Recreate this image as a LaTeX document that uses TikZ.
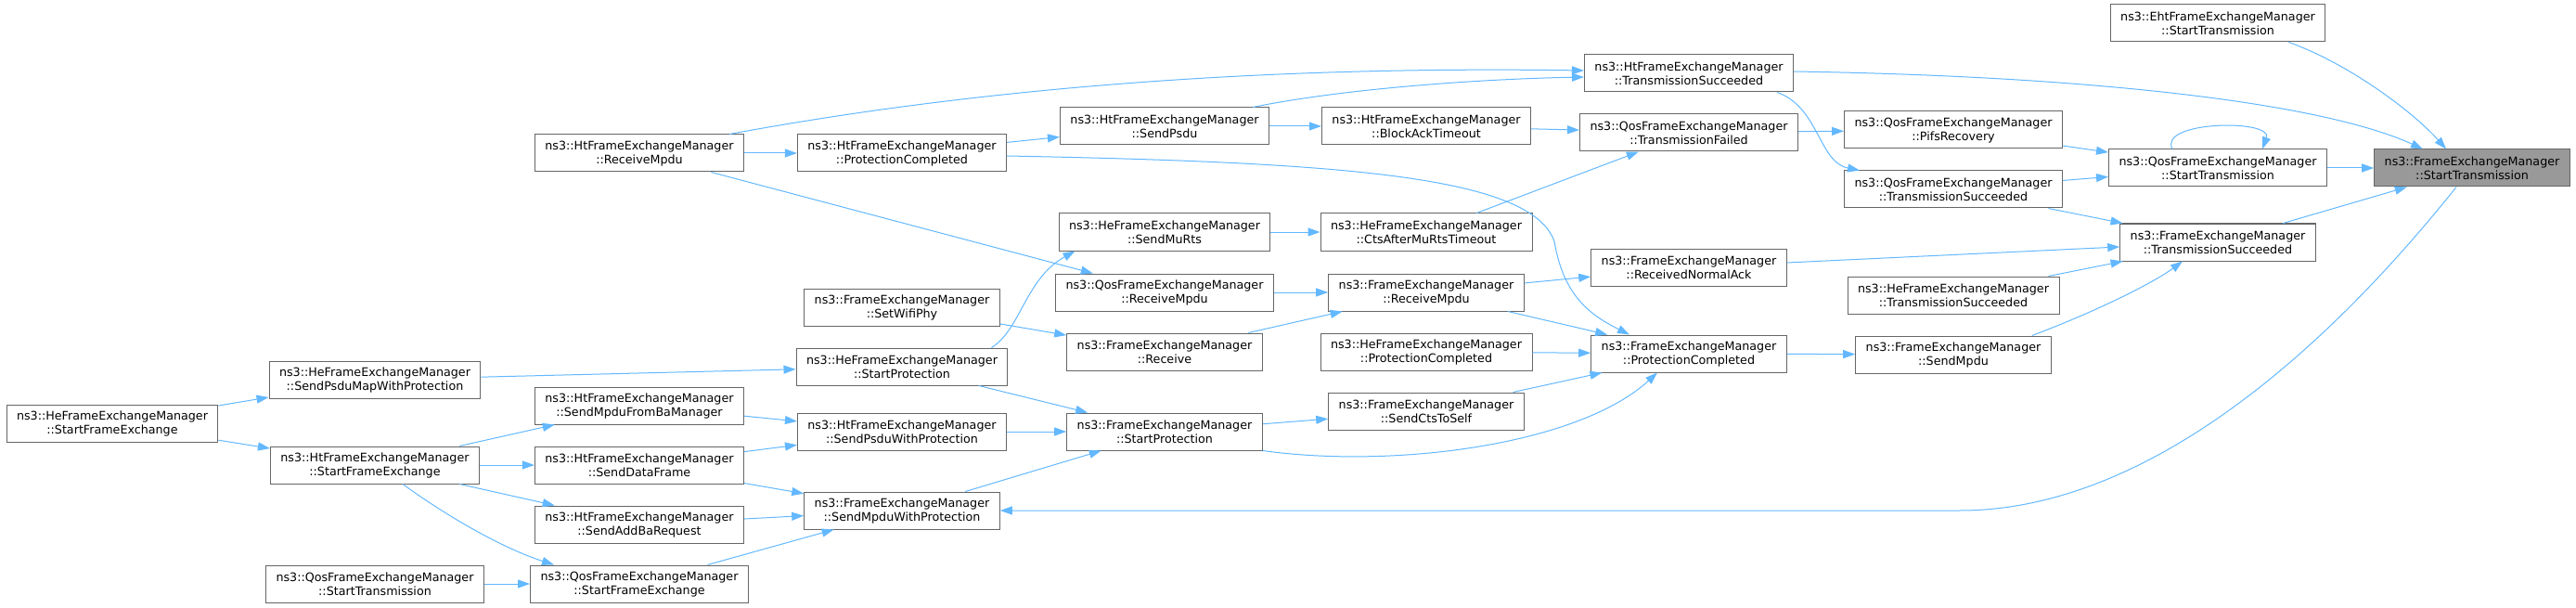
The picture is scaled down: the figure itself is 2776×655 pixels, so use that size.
\documentclass[tikz,border=0pt]{standalone}
\usepackage{fontspec}
\setmainfont{DejaVu Sans}
\usetikzlibrary{arrows.meta}
\definecolor{edgeblue}{HTML}{63B8FF}
\definecolor{boxgray}{HTML}{666666}
\definecolor{hlgray}{HTML}{999999}
\tikzset{
  fn/.style={draw=boxgray, line width=1pt, fill=white, align=center, minimum height=40pt,
    inner xsep=11pt, inner ysep=2pt, font=\fontsize{12.7}{15}\selectfont},
  target/.style={fn, fill=hlgray},
  call/.style={draw=edgeblue, line width=1pt, -{Triangle[length=13pt,width=9pt]}},
}
\begin{document}
\begin{tikzpicture}[x=1pt,y=-1pt]
  \useasboundingbox (0,0) rectangle (2776,655);
  \node [fn] (hesfe) at (121,456) {ns3::HeFrameExchangeManager\\::StartFrameExchange};
  \node [fn] (hespm) at (404,409) {ns3::HeFrameExchangeManager\\::SendPsduMapWithProtection};
  \node [fn] (htsfe) at (404,501) {ns3::HtFrameExchangeManager\\::StartFrameExchange};
  \node [fn] (qosstl) at (404,629) {ns3::QosFrameExchangeManager\\::StartTransmission};
  \node [fn] (htrxm) at (689,165) {ns3::HtFrameExchangeManager\\::ReceiveMpdu};
  \node [fn] (htsmba) at (689,437) {ns3::HtFrameExchangeManager\\::SendMpduFromBaManager};
  \node [fn] (htsdf) at (689,501) {ns3::HtFrameExchangeManager\\::SendDataFrame};
  \node [fn] (htaddba) at (689,565) {ns3::HtFrameExchangeManager\\::SendAddBaRequest};
  \node [fn] (qossfe) at (689,629) {ns3::QosFrameExchangeManager\\::StartFrameExchange};
  \node [fn] (htpc) at (972,165) {ns3::HtFrameExchangeManager\\::ProtectionCompleted};
  \node [fn] (setphy) at (972,331) {ns3::FrameExchangeManager\\::SetWifiPhy};
  \node [fn] (hesp) at (972,395) {ns3::HeFrameExchangeManager\\::StartProtection};
  \node [fn] (htspwp) at (972,465) {ns3::HtFrameExchangeManager\\::SendPsduWithProtection};
  \node [fn] (smwp) at (972,550) {ns3::FrameExchangeManager\\::SendMpduWithProtection};
  \node [fn] (htspsdu) at (1255,136) {ns3::HtFrameExchangeManager\\::SendPsdu};
  \node [fn] (hemurts) at (1255,250) {ns3::HeFrameExchangeManager\\::SendMuRts};
  \node [fn] (qosrxm) at (1255,315) {ns3::QosFrameExchangeManager\\::ReceiveMpdu};
  \node [fn] (femrx) at (1255,379) {ns3::FrameExchangeManager\\::Receive};
  \node [fn] (femsp) at (1255,465) {ns3::FrameExchangeManager\\::StartProtection};
  \node [fn] (htbat) at (1537,136) {ns3::HtFrameExchangeManager\\::BlockAckTimeout};
  \node [fn] (hects) at (1537,250) {ns3::HeFrameExchangeManager\\::CtsAfterMuRtsTimeout};
  \node [fn] (femrxm) at (1537,315) {ns3::FrameExchangeManager\\::ReceiveMpdu};
  \node [fn] (hepc) at (1537,379) {ns3::HeFrameExchangeManager\\::ProtectionCompleted};
  \node [fn] (femcts) at (1537,443) {ns3::FrameExchangeManager\\::SendCtsToSelf};
  \node [fn] (httxs) at (1820,79) {ns3::HtFrameExchangeManager\\::TransmissionSucceeded};
  \node [fn] (qostxf) at (1820,143) {ns3::QosFrameExchangeManager\\::TransmissionFailed};
  \node [fn] (femrna) at (1820,288) {ns3::FrameExchangeManager\\::ReceivedNormalAck};
  \node [fn] (fempc) at (1820,381) {ns3::FrameExchangeManager\\::ProtectionCompleted};
  \node [fn] (qospifs) at (2105,140) {ns3::QosFrameExchangeManager\\::PifsRecovery};
  \node [fn] (qostxs) at (2105,204) {ns3::QosFrameExchangeManager\\::TransmissionSucceeded};
  \node [fn] (hetxs) at (2105,318) {ns3::HeFrameExchangeManager\\::TransmissionSucceeded};
  \node [fn] (femsm) at (2105,382) {ns3::FrameExchangeManager\\::SendMpdu};
  \node [fn] (ehtst) at (2390,25) {ns3::EhtFrameExchangeManager\\::StartTransmission};
  \node [fn] (qosst) at (2390,181) {ns3::QosFrameExchangeManager\\::StartTransmission};
  \node [fn] (femtxs) at (2390,261) {ns3::FrameExchangeManager\\::TransmissionSucceeded};
  \node [target] (femst) at (2664,181) {ns3::FrameExchangeManager\\::StartTransmission};
  \foreach \a/\b in {hesfe/hespm, hesfe/htsfe, hespm/hesp, htsfe/htsmba, htsfe/htsdf,
      htsfe/htaddba, qosstl/qossfe, htrxm/htpc, htrxm/qosrxm, htsmba/htspwp, htsdf/htspwp,
      htsdf/smwp, htaddba/smwp, qossfe/smwp, htpc/htspsdu, setphy/femrx, hesp/femsp,
      htspwp/femsp, smwp/femsp, htspsdu/htbat, hemurts/hects, qosrxm/femrxm, femrx/femrxm,
      femsp/femcts, htbat/qostxf, hects/qostxf, femrxm/femrna, femrxm/fempc, hepc/fempc,
      femcts/fempc, qostxf/qospifs, femrna/femtxs, fempc/femsm, qospifs/qosst,
      qostxs/qosst, qostxs/femtxs, hetxs/femtxs, qosst/femst, femtxs/femst}
    \draw [call] (\a) -- (\b);
  \draw [call] ([xshift=30pt]htsfe.south) .. controls (480,555) and (540,590) .. ([xshift=26pt]qossfe.north west);
  \draw [call] ([xshift=-16pt]htrxm.north east) .. controls (1000,105) and (1300,70) .. ([yshift=3pt]httxs.west);
  \draw [call] ([yshift=-3pt]htpc.east) .. controls (1450,175) and (1650,190) .. (1675,260)
    .. controls (1685,320) and (1715,340) .. ([xshift=-64pt]fempc.north);
  \draw [call] ([xshift=-18pt]hesp.north east) .. controls (1100,355) and (1105,300) .. ([xshift=18pt]hemurts.south west);
  \draw [call] ([xshift=-18pt]htspsdu.north east) .. controls (1450,95) and (1600,85) .. ([yshift=-4pt]httxs.west);
  \draw [call] (femsp.south east) .. controls (1500,505) and (1700,480) .. ([xshift=-34pt]fempc.south);
  \draw [call] ([xshift=-18pt]httxs.south east) .. controls (1960,115) and (1960,175) .. ([xshift=17pt]qostxs.north west);
  \draw [call] ([yshift=2pt]httxs.east) .. controls (2250,82) and (2500,110) .. ([xshift=-53pt]femst.north);
  \draw [call] ([xshift=-21pt]femsm.north east) .. controls (2260,335) and (2320,305) .. ([xshift=-38pt]femtxs.south);
  \draw [call] ([xshift=-40pt]ehtst.south east) .. controls (2530,68) and (2600,120) .. ([xshift=-28pt]femst.north);
  \draw [call] ([xshift=-49pt]qosst.north) .. controls (2325,130) and (2450,128) .. ([xshift=48pt]qosst.north);
  \draw [call] ([xshift=-17pt]femst.south) .. controls (2560,310) and (2350,550) .. (2112,550) -- (smwp.east);
\end{tikzpicture}
\end{document}
